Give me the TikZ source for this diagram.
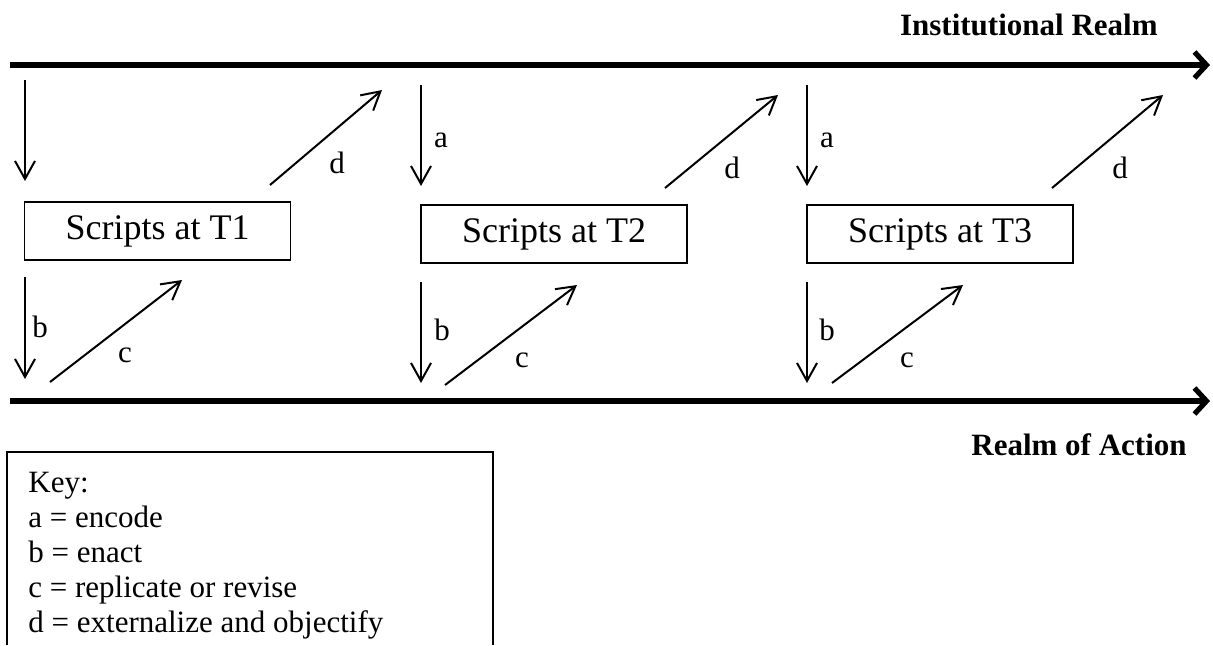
\documentclass[tikz,border=0pt]{standalone}
\usepackage{fontspec}
\setmainfont{Liberation Serif}
\usetikzlibrary{arrows.meta}
\begin{document}
\begin{tikzpicture}[x=0.5pt,y=-0.5pt,
  realm/.style={line width=2.6pt, -{Straight Barb[length=6pt,width=13pt]}},
  flow/.style={line width=1pt, -{Straight Barb[length=9pt,width=10pt]}},
  scriptbox/.style={draw, line width=0.7pt, minimum width=133pt, minimum height=29pt, inner sep=0pt, font=\fontsize{18}{20}\selectfont},
  lbl/.style={inner sep=0pt, font=\fontsize{15.5}{17}\selectfont},
  realmlbl/.style={inner sep=0pt, anchor=base east, font=\bfseries\fontsize{15.5}{17}\selectfont},
  keytxt/.style={inner sep=0pt, anchor=base west, font=\fontsize{15.5}{17}\selectfont}]
\useasboundingbox (0,0) rectangle (1213,645);

% realms
\coordinate (ts) at (10,65);
\coordinate (te) at (1210,65);
\coordinate (bs) at (10,401);
\coordinate (be) at (1210,401);
\draw[realm] (ts) -- (te);
\draw[realm] (bs) -- (be);
\node[realmlbl] (inst) at (1158,35) {Institutional Realm};
\node[realmlbl] (act) at (1187,455) {Realm of Action};

% script boxes
\node[scriptbox] (s1) at (157.5,231) {Scripts at T1};
\node[scriptbox] (s2) at (554,234) {Scripts at T2};
\node[scriptbox] (s3) at (940,234) {Scripts at T3};

% section 1
\coordinate (a1s) at (25,80);  \coordinate (a1e) at (25,181);
\coordinate (d1s) at (270,185); \coordinate (d1e) at (382,90);
\coordinate (b1s) at (25,277); \coordinate (b1e) at (25,379);
\coordinate (c1s) at (50,382); \coordinate (c1e) at (182,280);
\draw[flow] (a1s) -- (a1e);
\draw[flow] (d1s) -- (d1e);
\draw[flow] (b1s) -- (b1e);
\draw[flow] (c1s) -- (c1e);
\node[lbl] (ld1) at (337,163) {d};
\node[lbl] (lb1) at (40,327) {b};
\node[lbl] (lc1) at (125,355) {c};

% section 2
\coordinate (a2s) at (421,85);  \coordinate (a2e) at (421,186);
\coordinate (d2s) at (665,188); \coordinate (d2e) at (778,95);
\coordinate (b2s) at (421,282); \coordinate (b2e) at (421,383);
\coordinate (c2s) at (445,385); \coordinate (c2e) at (577,285);
\draw[flow] (a2s) -- (a2e);
\draw[flow] (d2s) -- (d2e);
\draw[flow] (b2s) -- (b2e);
\draw[flow] (c2s) -- (c2e);
\node[lbl] (la2) at (441,140) {a};
\node[lbl] (ld2) at (732,168) {d};
\node[lbl] (lb2) at (442,330) {b};
\node[lbl] (lc2) at (522,360) {c};

% section 3
\coordinate (a3s) at (807,85);  \coordinate (a3e) at (807,186);
\coordinate (d3s) at (1052,188); \coordinate (d3e) at (1163,95);
\coordinate (b3s) at (807,282); \coordinate (b3e) at (807,383);
\coordinate (c3s) at (832,383); \coordinate (c3e) at (963,285);
\draw[flow] (a3s) -- (a3e);
\draw[flow] (d3s) -- (d3e);
\draw[flow] (b3s) -- (b3e);
\draw[flow] (c3s) -- (c3e);
\node[lbl] (la3) at (827,140) {a};
\node[lbl] (ld3) at (1120,168) {d};
\node[lbl] (lb3) at (827,330) {b};
\node[lbl] (lc3) at (907,360) {c};

% key
\coordinate (kbl) at (7,645);
\coordinate (ktl) at (7,452);
\coordinate (ktr) at (493,452);
\coordinate (kbr) at (493,645);
\draw[line width=0.7pt] (kbl) -- (ktl) -- (ktr) -- (kbr);
\node[keytxt] (k0) at (28,492) {Key:};
\node[keytxt] (k1) at (28,527) {a = encode};
\node[keytxt] (k2) at (28,562) {b = enact};
\node[keytxt] (k3) at (28,597) {c = replicate or revise};
\node[keytxt] (k4) at (28,632) {d = externalize and objectify};
\end{tikzpicture}
\end{document}
